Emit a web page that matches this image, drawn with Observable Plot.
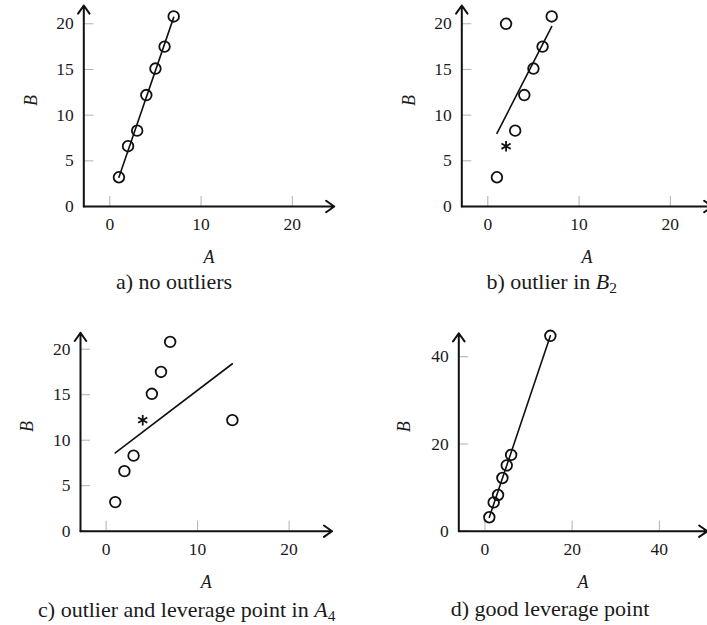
<!DOCTYPE html>
<html><head><meta charset="utf-8">
<script src="https://cdn.jsdelivr.net/npm/d3@7"></script>
<script src="https://cdn.jsdelivr.net/npm/@observablehq/plot@0.6"></script>
<style>
html,body{margin:0;padding:0;background:#fff;}
#wrap{position:relative;width:707px;height:625px;overflow:hidden;font-family:"Liberation Serif","Times New Roman",Times,serif;color:#1a1a1a;}
.panel{position:absolute;width:353px;height:280px;}
.panel svg{max-width:none !important;}
.cap{position:absolute;transform:translateX(-50%);white-space:nowrap;font-size:22px;line-height:22px;height:22px;}
.cap sub{font-size:70%;line-height:0;vertical-align:-0.25em;}
</style></head><body><div id="wrap"></div>
<script>
// ---- panel a: no outliers
const aA = [1, 2, 3, 4, 5, 6, 7];
const aB = [3.2, 6.6, 8.3, 12.2, 15.1, 17.5, 20.8];
const aFitA = [1, 7];
const aFitB = [3.2, 20.7];
// ---- panel b: outlier in B2
const bA = [1, 2, 3, 4, 5, 6, 7];
const bB = [3.2, 20.0, 8.3, 12.2, 15.1, 17.5, 20.8];
const bStarA = [2];
const bStarB = [6.6];
const bFitA = [1, 7];
const bFitB = [8.0, 19.7];
// ---- panel c: outlier and leverage point in A4
const cA = [1, 2, 3, 13.8, 5, 6, 7];
const cB = [3.2, 6.6, 8.3, 12.2, 15.1, 17.5, 20.8];
const cStarA = [4];
const cStarB = [12.2];
const cFitA = [1, 13.8];
const cFitB = [8.6, 18.4];
// ---- panel d: good leverage point
const dA = [1, 2, 3, 4, 5, 6, 15];
const dB = [3.2, 6.6, 8.3, 12.2, 15.1, 17.5, 44.8];
const dFitA = [1, 15];
const dFitB = [3.2, 44.8];
// ---- ticks and axis extents
const xTicks20 = [0, 10, 20];
const yTicks20 = [0, 5, 10, 15, 20];
const ticks40 = [0, 20, 40];
const abAxisA = [-2.85, 24.6], abAxisB = [0, 22];
const cAxisA = [-2.8, 24.7], cAxisB = [0, 21.8];
const dAxisA = [-6, 51], dAxisB = [0, 45.4];
const xLabel = ["A"];
const yLabel = ["B"];

const FONT = '"Liberation Serif", "Times New Roman", Times, serif';
const zip = (xs, ys) => xs.map((x, i) => ({x, y: ys[i]}));

function panel(o) {
  const pts = zip(o.xs, o.ys);
  const fit = zip(o.fitX, o.fitY);
  const stars = o.starX ? zip(o.starX, o.starY) : [];
  const axes = [
    {x1: o.xDom[0], y1: 0, x2: o.xDom[1], y2: 0},
    {x1: o.xDom[0], y1: 0, x2: o.xDom[0], y2: o.yDom[1]}
  ];
  const svg = Plot.plot({
    width: o.W, height: o.H,
    marginLeft: o.ml, marginRight: o.mr, marginTop: o.mt, marginBottom: o.mb,
    x: {domain: o.xDom}, y: {domain: o.yDom},
    style: {fontFamily: FONT, fontSize: "17.5px", background: "transparent", overflow: "visible", maxWidth: "none"},
    marks: [
      Plot.axisX({ticks: o.xTicks, tickSize: -10, tickPadding: 21, stroke: "#b0b0b0", strokeWidth: 1, fill: "#1a1a1a", fontSize: 17.5, label: null, tickFormat: d => String(d)}),
      Plot.axisY({ticks: o.yTicks, tickSize: -10, tickPadding: 20, stroke: "#b0b0b0", strokeWidth: 1, fill: "#1a1a1a", fontSize: 17.5, label: null, tickFormat: d => String(d)}),
      Plot.arrow(axes, {x1: "x1", y1: "y1", x2: "x2", y2: "y2", stroke: "#111", strokeWidth: 2, headLength: 7.5, headAngle: 70}),
      Plot.line(fit, {x: "x", y: "y", stroke: "#111", strokeWidth: 1.6}),
      Plot.dot(pts, {x: "x", y: "y", r: 5.3, stroke: "#111", strokeWidth: 1.8, fill: "none"}),
      Plot.dot(stars, {x: "x", y: "y", symbol: "asterisk", r: 5, stroke: "#111", strokeWidth: 1.8}),
      Plot.text(xLabel, {text: d => d, frameAnchor: "bottom", dy: 51, lineAnchor: "middle", fontStyle: "italic", fontSize: 18, fill: "#1a1a1a"}),
      Plot.text(yLabel, {text: d => d, frameAnchor: "left", dx: o.bDx, rotate: -90, fontStyle: "italic", fontSize: 18, fill: "#1a1a1a"})
    ]
  });
  svg.style.fontFamily = FONT;
  const div = document.createElement("div");
  div.className = "panel";
  div.style.left = o.left + "px";
  div.style.top = o.top + "px";
  div.appendChild(svg);
  document.getElementById("wrap").appendChild(div);
}

panel({xs: aA, ys: aB, fitX: aFitA, fitY: aFitB, xDom: abAxisA, yDom: abAxisB, xTicks: xTicks20, yTicks: yTicks20,
  left: 0, top: 0, W: 353, H: 280, ml: 83.3, mr: 19.2, mt: 5, mb: 74, bDx: -53});
panel({xs: bA, ys: bB, starX: bStarA, starY: bStarB, fitX: bFitA, fitY: bFitB, xDom: abAxisA, yDom: abAxisB, xTicks: xTicks20, yTicks: yTicks20,
  left: 378.4, top: 0, W: 353, H: 280, ml: 83.3, mr: 19.2, mt: 5, mb: 74, bDx: -53});
panel({xs: cA, ys: cB, starX: cStarA, starY: cStarB, fitX: cFitA, fitY: cFitB, xDom: cAxisA, yDom: cAxisB, xTicks: xTicks20, yTicks: yTicks20,
  left: 0, top: 310, W: 353, H: 280, ml: 80, mr: 21.4, mt: 22.3, mb: 59.3, bDx: -53});
panel({xs: dA, ys: dB, fitX: dFitA, fitY: dFitB, xDom: dAxisA, yDom: dAxisB, xTicks: ticks40, yTicks: ticks40,
  left: 375, top: 310, W: 353, H: 280, ml: 83.3, mr: 21.2, mt: 22.7, mb: 59.3, bDx: -55});

const captions = [
  {html: "a) no outliers", cx: 174, base: 289},
  {html: "b) outlier in <i>B</i><sub>2</sub>", cx: 551.7, base: 289},
  {html: "c) outlier and leverage point in <i>A</i><sub>4</sub>", cx: 186.7, base: 617},
  {html: "d) good leverage point", cx: 550, base: 616}
];
for (const c of captions) {
  const d = document.createElement("div");
  d.className = "cap";
  d.innerHTML = c.html;
  d.style.left = c.cx + "px";
  d.style.top = (c.base - 18.4) + "px";
  document.getElementById("wrap").appendChild(d);
}
</script></body></html>
